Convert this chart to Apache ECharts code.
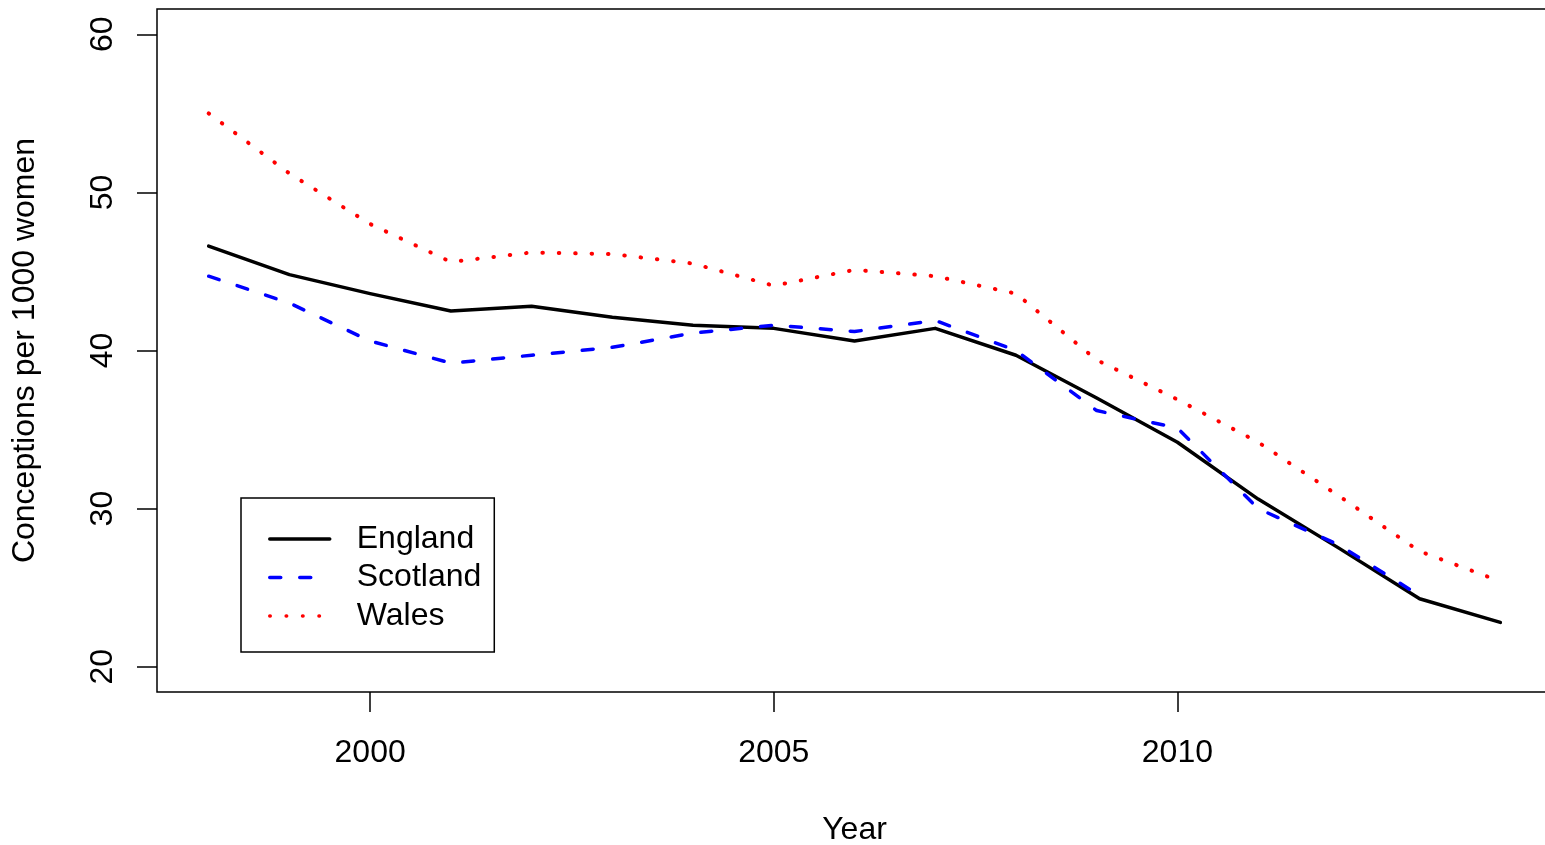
<!DOCTYPE html>
<html>
<head>
<meta charset="utf-8">
<script src="https://cdn.jsdelivr.net/npm/echarts@6/dist/echarts.min.js"></script>
<style>
html,body{margin:0;padding:0;background:#fff;}
#chart{width:1545px;height:845px;}
</style>
</head>
<body>
<div id="chart"></div>
<script>
var years = [1998,1999,2000,2001,2002,2003,2004,2005,2006,2007,2008,2009,2010,2011,2012,2013,2014];
var england = [46.6,44.8,43.6,42.5,42.8,42.1,41.6,41.4,40.6,41.4,39.7,37.0,34.2,30.6,27.5,24.3,22.8];
var scotland = [44.7,43.0,40.6,39.2,39.7,40.2,41.1,41.6,41.2,41.9,40.0,36.2,35.1,30.0,27.7,24.5,null];
var wales = [55.0,51.2,48.0,45.6,46.2,46.1,45.5,44.1,45.1,44.7,43.6,39.4,36.9,34.2,30.8,27.3,25.4];
var xTicks = [2000,2005,2010];
var yTicks = [20,30,40,50,60];
var seriesNames = ['England','Scotland','Wales'];

function pairs(vals){
  var out = [];
  for (var i=0;i<years.length;i++){ if (vals[i]!==null) out.push([years[i], vals[i]]); }
  return out;
}
var FONT = '"Liberation Sans", Arial, Helvetica, sans-serif';
var FS = 32;
var chart = echarts.init(document.getElementById('chart'), null, {renderer:'canvas'});
chart.setOption({
  animation:false,
  backgroundColor:'#fff',
  textStyle:{fontFamily:FONT},
  grid:{left:157, top:9, width:1395, height:683, show:true, borderColor:'#000', borderWidth:1.5,
        backgroundColor:'transparent', containLabel:false, outerBoundsMode:'none'},
  xAxis:{
    type:'value', min:1997.36, max:2014.64,
    name:'Year', nameLocation:'middle', nameGap:122,
    nameTextStyle:{fontSize:FS, color:'#000', fontFamily:FONT, verticalAlign:'top'},
    axisLine:{show:false},
    splitLine:{show:false},
    axisTick:{show:true, length:20, inside:false, customValues:xTicks, lineStyle:{color:'#000', width:1.5}},
    axisLabel:{customValues:xTicks, fontSize:FS, color:'#000', fontFamily:FONT, margin:45,
               formatter:function(v){return String(v);}}
  },
  yAxis:{
    type:'value', min:18.4, max:61.6,
    name:'Conceptions per 1000 women', nameLocation:'middle', nameGap:116, nameRotate:90,
    nameTextStyle:{fontSize:FS, color:'#000', fontFamily:FONT},
    axisLine:{show:false},
    splitLine:{show:false},
    axisTick:{show:true, length:20, inside:false, customValues:yTicks, lineStyle:{color:'#000', width:1.5}},
    axisLabel:{customValues:yTicks, fontSize:FS, color:'#000', fontFamily:FONT, rotate:90, margin:38,
               formatter:function(v){return String(v);}}
  },
  legend:{
    show:true, orient:'vertical', left:241, top:498,
    data:seriesNames,
    borderColor:'#000', borderWidth:1.5, borderRadius:0,
    padding:[25,13,20,27],
    itemWidth:60, itemHeight:14, itemGap:6.5,
    itemStyle:{opacity:0},
    lineStyle:{width:3.5, cap:'round'},
    textStyle:{fontSize:FS, color:'#000', fontFamily:FONT, lineHeight:32, padding:[0,0,0,22]}
  },
  series:[
    {name:'England', type:'line', data:pairs(england), symbol:'none', showSymbol:false,
     lineStyle:{color:'#000', width:3.5, type:'solid', cap:'round', join:'round'}, itemStyle:{color:'#000'}},
    {name:'Scotland', type:'line', data:pairs(scotland), symbol:'none', showSymbol:false,
     lineStyle:{color:'#0000ff', width:3.5, type:[11,19], cap:'round', join:'round'}, itemStyle:{color:'#0000ff'}},
    {name:'Wales', type:'line', data:pairs(wales), symbol:'none', showSymbol:false,
     lineStyle:{color:'#ff0000', width:4, type:[0.5,15.9], cap:'round', join:'round'}, itemStyle:{color:'#ff0000'}}
  ]
});
</script>
</body>
</html>
